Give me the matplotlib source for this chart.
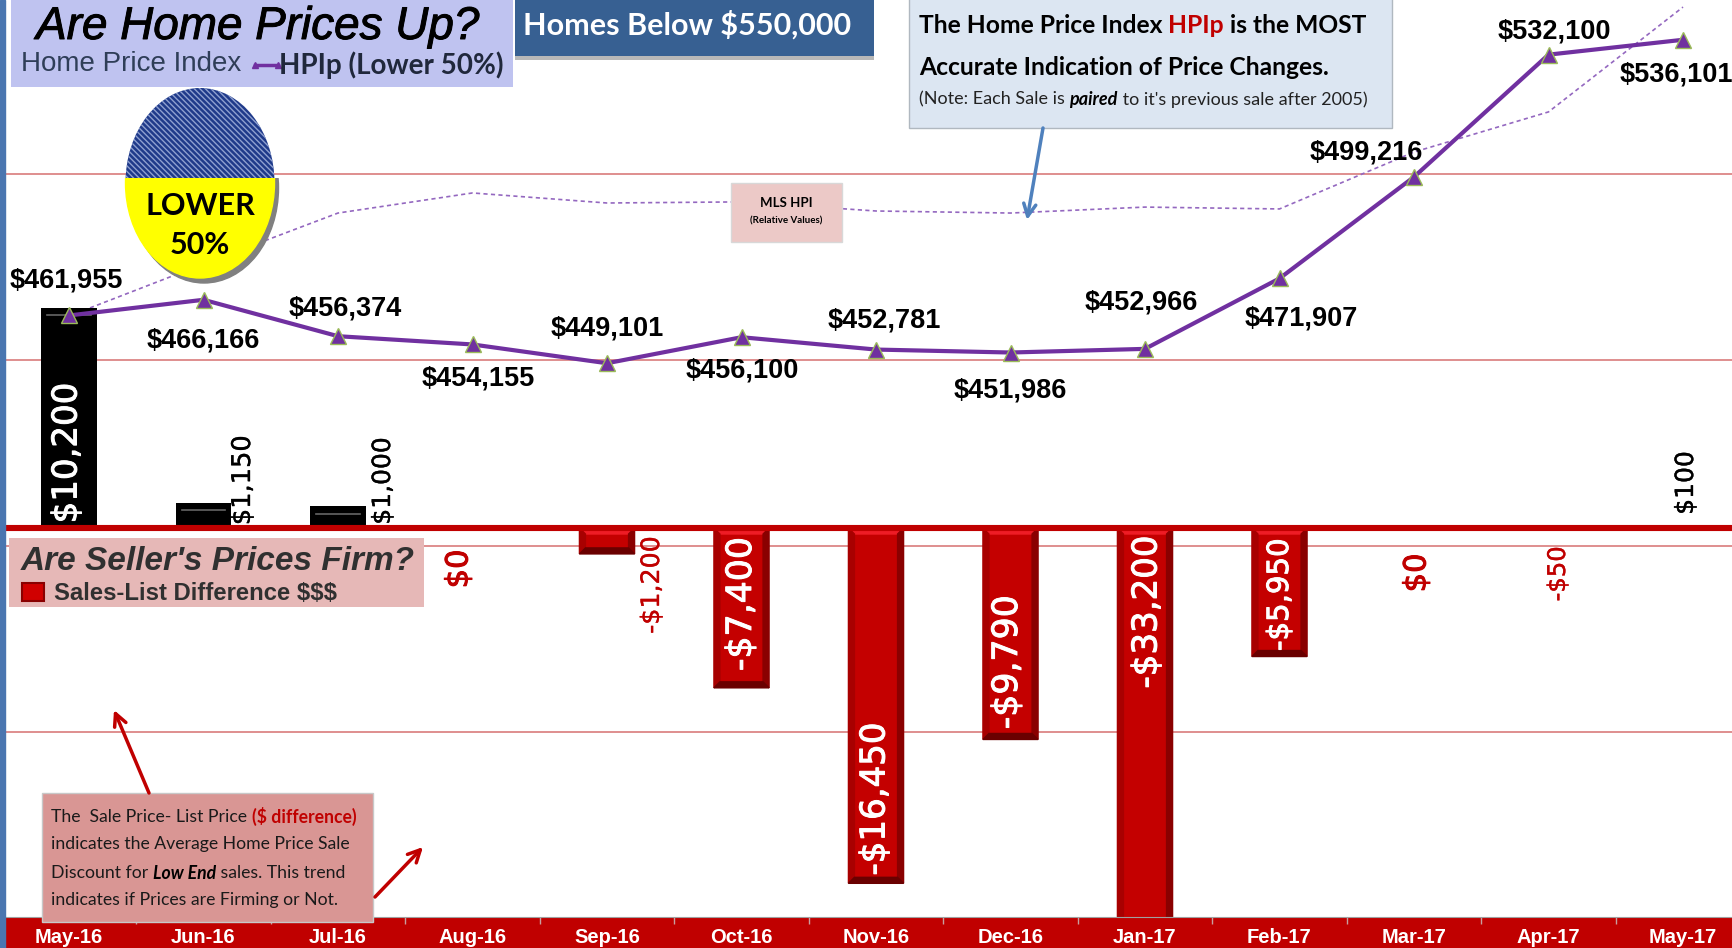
import matplotlib
matplotlib.use("Agg")
import matplotlib.pyplot as plt
import matplotlib.patheffects as pe
from matplotlib.patches import Rectangle, Ellipse

# chart values
months = ["May-16", "Jun-16", "Jul-16", "Aug-16", "Sep-16", "Oct-16", "Nov-16",
          "Dec-16", "Jan-17", "Feb-17", "Mar-17", "Apr-17", "May-17"]
hpip = [461955, 466166, 456374, 454155, 449101, 456100, 452781,
        451986, 452966, 471907, 499216, 532100, 536101]
mls_hpi = [461800, 475800, 489500, 494900, 492200, 492500, 490050,
           489500, 491100, 490600, 505900, 516700, 544900]
sale_list_diff = [10200, 1150, 1000, 0, -1200, -7400, -16450,
                  -9790, -33200, -5950, 0, -50, 100]

# where the labels sit, in picture pixels
price_label_xy = [(66, 280), (203, 341), (345, 308), (478, 379), (607, 329), (742, 371), (884, 320),
                  (1010, 390), (1141, 303), (1301, 318), (1366, 152), (1554, 31), (1676, 74)]
diff_label_xy = [(67, 453), (243, 480), (383, 481), (459, 569), (652, 585), (741, 604), (875, 799),
                 (1007, 662), (1147, 612), (1280, 595), (1417, 573), (1558, 574), (1686, 483)]
diff_label_size = [24.5, 18.5, 18, 22, 18.2, 25, 24.5, 25, 24.5, 21, 22, 17.5, 18]

W, H = 1732, 948
BOTTOM = 917
ZERO_PX = 528
STEP = 134.5
FIRST = 69
RED = "#c40000"
PURPLE = "#7030a0"
ARIAL = "Liberation Sans"
CALIBRI = "Lato"

fig = plt.figure(figsize=(W / 100, H / 100), dpi=100, facecolor="white")
rect = [5 / W, (H - BOTTOM) / H, (W - 5) / W, BOTTOM / H]
xlim = ((5 - FIRST) / STEP, (W - FIRST) / STEP)
x = list(range(len(months)))

# red band under the axis
fig.add_artist(Rectangle((0, 0), 1, (H - BOTTOM) / H, transform=fig.transFigure, color="#c00000", zorder=-1))

# price scale: 50,000 is 185.9 px, 500,000 sits at y=174
px_per_dollar = 185.9 / 50000
price_lim = (500000 - (BOTTOM - 174) / px_per_dollar, 500000 + 174 / px_per_dollar)

ax_grid = fig.add_axes(rect)
ax_grid.set_xlim(xlim)
ax_grid.set_ylim(price_lim)
ax_grid.set_yticks([350000, 400000, 450000, 500000])
ax_grid.grid(axis="y", color="#d97b7b", lw=1.2)
ax_grid.tick_params(left=False, labelleft=False, bottom=False, labelbottom=False)
for s in ax_grid.spines.values():
    s.set_visible(False)
ax_grid.plot(x, mls_hpi, color="#9468c0", lw=1.2, ls=(0, (2.5, 2)))

# bars
bar_scale = 0.0216
ax_bar = fig.add_axes(rect, zorder=1)
ax_bar.patch.set_visible(False)
ax_bar.set_xlim(xlim)
ax_bar.set_ylim(-(BOTTOM - ZERO_PX) / bar_scale, ZERO_PX / bar_scale)
ax_bar.axhline(0, color="#c00000", lw=4.4, zorder=3)
colors = ["black" if v > 0 else RED for v in sale_list_diff]
bars = ax_bar.bar(x, sale_list_diff, width=0.41, color=colors, zorder=2)

# bevel on the bars, 6 px wide
dx = 6 / STEP
dy = 6 / bar_scale
for b, v in zip(bars, sale_list_diff):
    x0, x1 = b.get_x(), b.get_x() + b.get_width()
    if v < -100:
        ax_bar.fill([x0, x0 + dx, x1 - dx, x1], [0, -dy, -dy, 0], color="#ee1c25", zorder=2)
        ax_bar.fill([x1, x1 - dx, x1 - dx, x1], [0, -dy, v + dy, v], color="#8a0000", zorder=2)
        ax_bar.fill([x0, x0 + dx, x0 + dx, x0], [0, -dy, v + dy, v], color="#a80000", zorder=2)
        ax_bar.fill([x0, x0 + dx, x1 - dx, x1], [v, v + dy, v + dy, v], color="#6a0000", zorder=2)
    elif v > 100:
        ax_bar.plot([x0 + dx, x1 - dx], [v - dy * 1.2, v - dy * 1.2], color="#666666", lw=1.2, zorder=2)

ax_bar.set_xticks(x)
ax_bar.set_xticklabels(months, color="white", fontfamily=ARIAL, fontweight="bold", fontsize=14.5)
ax_bar.set_xticks([i + 0.5 for i in x[:-1]], minor=True)
ax_bar.tick_params(axis="x", which="major", length=0, pad=8)
ax_bar.tick_params(axis="x", which="minor", length=5, color="#c8a0a0", width=1)
ax_bar.tick_params(left=False, labelleft=False)
for name, s in ax_bar.spines.items():
    s.set_visible(name == "bottom")
ax_bar.spines["bottom"].set_color("#a0a0a0")

# HPIp line on top of the bars
ax_line = fig.add_axes(rect, zorder=2)
ax_line.patch.set_visible(False)
ax_line.set_xlim(xlim)
ax_line.set_ylim(price_lim)
ax_line.axis("off")
ax_line.plot(x, hpip, color=PURPLE, lw=3, marker="^", ms=11, mfc=PURPLE, mec="#9bbb59", mew=1)

# everything else is placed in picture pixels
ov = fig.add_axes([0, 0, 1, 1], zorder=3)
ov.patch.set_visible(False)
ov.set_xlim(0, W)
ov.set_ylim(H, 0)
ov.axis("off")


def box(x0, y0, x1, y1, color, edge="none"):
    ov.add_patch(Rectangle((x0, y0), x1 - x0, y1 - y0, facecolor=color, edgecolor=edge, lw=1))


def text(x, y, s, size, family=ARIAL, ha="center", color="black", **kw):
    return ov.text(x, y, s, fontsize=size, family=family, ha=ha, va="center", color=color, **kw)


def runs(x, y, parts, size, family=CALIBRI):
    # several styles on one line, each piece starts where the last one ended
    renderer = fig.canvas.get_renderer()
    for s, color, weight, style in parts:
        t = ov.text(x, y, s, fontsize=size, family=family, color=color, fontweight=weight,
                    fontstyle=style, ha="left", va="center_baseline")
        x = t.get_window_extent(renderer).x1


ov.add_patch(Rectangle((0, 0), 4.5, H, color="#4a76b0"))

# price labels
for v, (px, py) in zip(hpip, price_label_xy):
    text(px, py, f"${v:,}", 19.5, fontweight="bold")

# bar labels, a thin stroke makes the big ones as heavy as the original
for v, (px, py), fs in zip(sale_list_diff, diff_label_xy, diff_label_size):
    label = f"${v:,}" if v >= 0 else f"-${-v:,}"
    inside = abs(v) > 5000
    col = "white" if inside else ("#c00000" if v <= 0 else "black")
    t = text(px, py, label, fs, family="DejaVu Sans", color=col, rotation=90)
    stroke = 0.7 if inside or v == 0 else 0.25
    t.set_path_effects([pe.withStroke(linewidth=stroke, foreground=col)])

# top left title
box(11, 0, 513, 87, "#bfc3f0")
t = text(258, 27, "Are Home Prices Up?", 33, fontstyle="italic")
t.set_path_effects([pe.withStroke(linewidth=0.7, foreground="black")])
text(131, 64, "Home Price Index", 20, color="#2f3e58")
ov.plot([255, 278], [65, 65], color=PURPLE, lw=2.5, marker="^", ms=5)
text(279, 65, "HPIp (Lower 50%)", 20, family=CALIBRI, ha="left", fontweight="bold", color="#20283c")

# blue box
box(515, 2, 874, 60, "#b8b8b8")
box(515, 0, 874, 56, "#376092")
text(687, 25, "Homes Below $550,000", 22, family=CALIBRI, color="white", fontweight="bold")

# note box
box(909, -2, 1392, 128, "#dce6f2", "#b0b8c0")
runs(919, 23, [("The Home Price Index ", "black", "bold", "normal"), ("HPIp", "#c00000", "bold", "normal"),
               (" is the MOST", "black", "bold", "normal")], 17.7)
runs(919, 65, [("Accurate Indication of Price Changes.", "black", "bold", "normal")], 17.7)
runs(919, 98, [("(Note: Each Sale is ", "#222222", "normal", "normal"), ("paired", "black", "bold", "italic"),
               (" to it's previous sale after 2005)", "#222222", "normal", "normal")], 13)
ov.annotate("", xy=(1027, 220), xytext=(1043, 128),
            arrowprops=dict(arrowstyle="->", color="#4f81bd", lw=2.5, mutation_scale=22, shrinkA=0, shrinkB=0))

# MLS box
box(731, 183, 842, 242, "#ecc9c7", "#d8d8d8")
text(786, 203, "MLS HPI", 9.5, family=CALIBRI, fontweight="bold")
text(786, 221, "(Relative Values)", 7, family=CALIBRI, fontweight="bold")

# lower 50% ball
clip_low = Rectangle((100, 178), 200, 130, transform=ov.transData)
shade = Ellipse((204, 188), 149, 190, color="#808080")
ov.add_patch(shade)
shade.set_clip_path(clip_low)
ball = Ellipse((200, 183), 149, 190, color="#ffff00")
ov.add_patch(ball)
ball.set_clip_path(clip_low)
top = Ellipse((200, 183), 149, 190, facecolor="#1f3a8a", edgecolor="#8fa0d0", hatch="\\\\\\\\\\\\", lw=0)
ov.add_patch(top)
top.set_clip_path(Rectangle((100, 80), 200, 98, transform=ov.transData))
text(200, 206, "LOWER", 22, family=CALIBRI, fontweight="bold")
text(200, 245, "50%", 22, family=CALIBRI, fontweight="bold")

# seller box
box(9, 538, 424, 607, "#e6b8b7")
text(218, 561, "Are Seller's Prices Firm?", 24, color="#303030", fontstyle="italic", fontweight="bold")
ov.add_patch(Rectangle((22, 583), 22, 18, facecolor="#d00000", edgecolor="#8a0000", lw=1.5))
text(54, 593, "Sales-List Difference $$$", 17.2, ha="left", color="#303030", fontweight="bold")

# discount note
box(42, 793, 373, 922, "#d99694", "#c8c8c8")
runs(51, 815, [("The  Sale Price- List Price ", "#1a1a1a", "normal", "normal"),
               ("($ difference)", "#c00000", "bold", "normal")], 12.7)
runs(51, 843, [("indicates the Average Home Price Sale", "#1a1a1a", "normal", "normal")], 12.7)
runs(51, 872, [("Discount for ", "#1a1a1a", "normal", "normal"), ("Low End", "black", "bold", "italic"),
               (" sales. This trend", "#1a1a1a", "normal", "normal")], 12.7)
runs(51, 899, [("indicates if Prices are Firming or Not.", "#1a1a1a", "normal", "normal")], 12.7)
ov.annotate("", xy=(114, 710), xytext=(149, 793),
            arrowprops=dict(arrowstyle="->", color="#c00000", lw=2.5, mutation_scale=22, shrinkA=0, shrinkB=0))
ov.annotate("", xy=(423, 847), xytext=(375, 897),
            arrowprops=dict(arrowstyle="->", color="#c00000", lw=2.5, mutation_scale=22, shrinkA=0, shrinkB=0))

fig.savefig("out.png", dpi=100)
